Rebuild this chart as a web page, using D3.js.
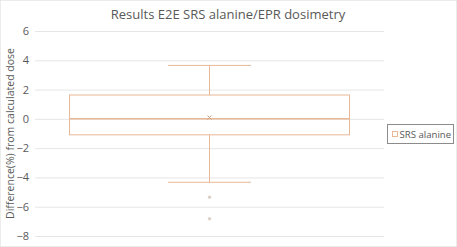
<!DOCTYPE html>
<html>
<head>
<meta charset="utf-8">
<script src="https://cdn.jsdelivr.net/npm/d3@7"></script>
<style>
  body { margin: 0; background: #fff; }
  text { font-family: "Open Sans", "Noto Sans", sans-serif; fill: #595959; }
</style>
</head>
<body>
<div id="chart"></div>
<script>
const width = 457, height = 247;
const margin = { top: 31, right: 73, bottom: 11, left: 35 };

// box plot stats (% difference)
const seriesName = "SRS alanine";
const boxStats = { q1: -1.09, median: 0.0, q3: 1.63, whiskerLow: -4.33, whiskerHigh: 3.65, mean: 0.09 };
const outliers = [-5.35, -6.82];
const yTicks = [6, 4, 2, 0, -2, -4, -6, -8];

const lineColor = "#E9B896";

const svg = d3.select("#chart").append("svg")
  .attr("width", width)
  .attr("height", height);

svg.append("rect").attr("width", width).attr("height", height).attr("fill", "#fff")
  .attr("stroke", "#d9d9d9");

const x = d3.scaleLinear().domain([0, 1]).range([margin.left, width - margin.right]);
const y = d3.scaleLinear().domain([-8, 6]).range([height - margin.bottom, margin.top]);

// gridlines
svg.append("g")
  .selectAll("line")
  .data(yTicks)
  .join("line")
  .attr("x1", x(0)).attr("x2", x(1))
  .attr("y1", d => y(d) + 0.5).attr("y2", d => y(d) + 0.5)
  .attr("stroke", "#e6e6e6");

// y axis labels
svg.append("g")
  .attr("transform", `translate(${x(0)},0)`)
  .call(d3.axisLeft(y).tickValues(yTicks).tickSize(0).tickPadding(6))
  .call(g => g.select(".domain").remove())
  .call(g => g.selectAll("text").style("font-size", "11px").attr("fill", "#595959")
    .style("font-family", "'Open Sans', sans-serif"));

// y axis title
svg.append("text")
  .attr("transform", `translate(14,${(y(6) + y(-8)) / 2}) rotate(-90)`)
  .attr("text-anchor", "middle")
  .style("font-size", "10.5px")
  .text("Difference(%) from calculated dose");

// title
svg.append("text")
  .attr("x", 228).attr("y", 19)
  .attr("text-anchor", "middle")
  .style("font-size", "13px")
  .text("Results E2E SRS alanine/EPR dosimetry");

// box plot
const cx = x(0.5);
const boxHalf = 140, capHalf = 41.5;
const g = svg.append("g").attr("stroke", lineColor).attr("fill", "none").attr("stroke-width", 1);

g.append("line").attr("x1", cx).attr("x2", cx)
  .attr("y1", y(boxStats.q3)).attr("y2", y(boxStats.whiskerHigh));
g.append("line").attr("x1", cx).attr("x2", cx)
  .attr("y1", y(boxStats.q1)).attr("y2", y(boxStats.whiskerLow));
g.append("line").attr("x1", cx - capHalf).attr("x2", cx + capHalf)
  .attr("y1", y(boxStats.whiskerHigh)).attr("y2", y(boxStats.whiskerHigh));
g.append("line").attr("x1", cx - capHalf).attr("x2", cx + capHalf)
  .attr("y1", y(boxStats.whiskerLow)).attr("y2", y(boxStats.whiskerLow));
g.append("rect")
  .attr("x", cx - boxHalf).attr("width", boxHalf * 2)
  .attr("y", y(boxStats.q3)).attr("height", y(boxStats.q1) - y(boxStats.q3));
g.append("line").attr("x1", cx - boxHalf).attr("x2", cx + boxHalf)
  .attr("y1", y(boxStats.median)).attr("y2", y(boxStats.median))
  .attr("stroke-width", 1.5);

// mean marker (x)
const mY = y(boxStats.mean);
svg.append("path")
  .attr("d", `M${cx - 2},${mY - 2}L${cx + 2},${mY + 2}M${cx - 2},${mY + 2}L${cx + 2},${mY - 2}`)
  .attr("stroke", "#c9a080").attr("stroke-width", 1);

// outliers
svg.append("g")
  .selectAll("circle")
  .data(outliers)
  .join("circle")
  .attr("cx", cx).attr("cy", d => y(d)).attr("r", 1.3)
  .attr("fill", "#e3d6cc").attr("stroke", "#c2b4a8").attr("stroke-width", 0.5);

// legend
const lg = svg.append("g").attr("transform", "translate(387,124)");
lg.append("rect").attr("x", 0.5).attr("y", 0.5).attr("width", 66).attr("height", 19)
  .attr("fill", "#fff").attr("stroke", "#8c8c8c");
lg.append("rect").attr("x", 5.5).attr("y", 7.5).attr("width", 5).attr("height", 5)
  .attr("fill", "#fff").attr("stroke", lineColor);
lg.append("text").attr("x", 12.5).attr("y", 13.5)
  .style("font-size", "9.6px")
  .text(seriesName);
</script>
</body>
</html>
